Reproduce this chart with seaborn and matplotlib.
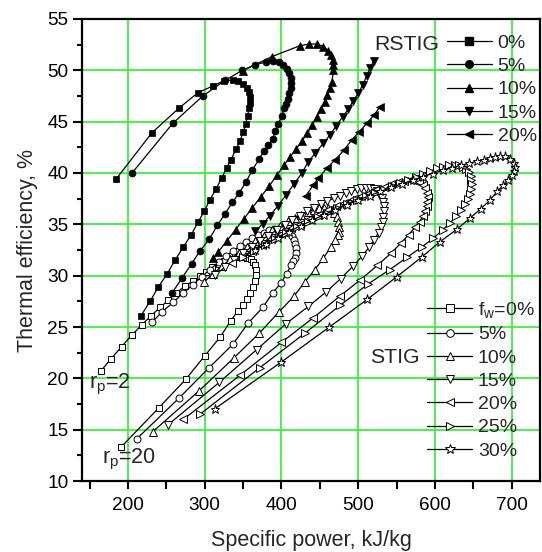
import matplotlib
matplotlib.use("Agg")
import matplotlib.pyplot as plt
import seaborn as sns
from matplotlib.lines import Line2D
from matplotlib.ticker import MultipleLocator

sns.set_style("ticks")
plt.rcParams["font.family"] = ["Liberation Sans", "DejaVu Sans"]
plt.rcParams["mathtext.fontset"] = "custom"
plt.rcParams["mathtext.rm"] = "Liberation Sans"
plt.rcParams["mathtext.it"] = "Liberation Sans"
plt.rcParams["mathtext.default"] = "regular"

# ---------------- RSTIG (filled markers) ----------------
r0_x = [184.4, 230.9, 266.1, 290.8, 311.1, 325.5, 336.4, 343.7, 350.2, 354.7, 357.7, 359.0, 359.0, 357.7,
        356.0, 353.4, 350.2, 345.9, 340.7, 334.2, 328.6, 322.1, 314.3, 306.9, 299.4, 291.2, 282.5, 272.1,
        261.2, 251.2, 239.5, 228.7, 216.9]
r0_y = [39.4, 43.9, 46.3, 47.8, 48.5, 49.0, 49.05, 49.0, 48.7, 48.3, 47.9, 47.4, 46.8, 46.3,
        45.6, 44.8, 44.0, 43.1, 42.3, 41.3, 40.5, 39.5, 38.4, 37.4, 36.3, 35.2, 34.0, 32.8,
        31.5, 30.2, 28.9, 27.5, 26.1]

r5_x = [204.8, 258.2, 297.3, 326.4, 349.2, 365.8, 379.4, 389.3, 397.2, 402.4, 406.8, 410.2, 412.0, 412.4,
        412.0, 409.8, 408.1, 405.9, 403.7, 400.3, 396.1, 392.2, 388.6, 383.1, 377.6, 370.7, 362.0, 353.8,
        345.0, 335.9, 326.4, 316.4, 305.6, 294.2, 283.0, 270.8, 257.7]
r5_y = [39.96, 44.83, 47.49, 49.02, 50.01, 50.54, 50.81, 50.94, 50.78, 50.52, 50.10, 49.71, 49.22, 48.73,
        48.30, 47.76, 47.17, 46.72, 46.30, 45.55, 44.81, 44.08, 43.30, 42.72, 42.16, 41.33, 40.28, 39.14,
        38.07, 37.13, 36.02, 34.89, 33.53, 32.45, 31.18, 29.82, 28.35]

r10_x = [349.9, 387.3, 424.1, 436.2, 446.7, 454.5, 461.0, 464.5, 466.7, 467.8, 467.8, 465.8, 463.2, 460.0,
         456.1, 451.5, 446.3, 440.4, 433.9, 426.7, 418.9, 411.1, 403.3, 394.2, 384.4, 373.3, 362.2, 351.2,
         340.1, 329.0, 317.9, 311.4]
r10_y = [49.98, 51.33, 52.40, 52.56, 52.56, 52.32, 51.93, 51.49, 51.00, 50.52, 50.03, 48.86, 48.27, 47.59,
         46.91, 46.23, 45.45, 44.67, 43.89, 43.11, 42.33, 41.55, 40.77, 39.80, 38.77, 37.70, 36.63, 35.56,
         34.48, 33.41, 32.34, 31.70]

r15_x = [520.6, 515.3, 511.0, 505.8, 500.1, 493.6, 487.1, 479.8, 471.0, 463.2, 454.5, 443.7, 434.9, 426.3,
         416.3, 405.9, 395.5, 385.0, 375.3, 365.5]
r15_y = [50.94, 50.20, 49.44, 48.57, 47.76, 47.04, 46.20, 45.48, 44.57, 43.69, 42.88, 41.91, 41.09, 39.96,
         38.92, 37.85, 36.82, 35.85, 35.02, 34.34]

r20_x = [528.4, 520.6, 511.1, 501.4, 491.5, 481.5, 469.7, 458.9, 448.0, 441.5, 431.9]
r20_y = [46.45, 45.64, 44.83, 44.02, 43.21, 42.23, 41.26, 40.45, 39.47, 38.82, 37.78]

# ---------------- STIG (open markers) ----------------
s0_x = [164.4, 177.8, 191.8, 204.8, 217.8, 230.0, 241.7, 252.5, 262.5, 274.3, 285.0, 293.8, 302.0, 310.0,
        318.0, 325.5, 332.5, 339.0, 345.0, 350.5, 355.5, 359.8, 363.3, 365.8, 367.0, 366.8, 365.3, 362.8,
        359.5, 355.3, 350.0, 343.7, 333.8, 319.9, 300.0, 275.2, 240.4, 190.9]
s0_y = [20.7, 21.9, 23.1, 24.2, 25.2, 26.1, 26.9, 27.6, 28.3, 29.0, 29.5, 29.95, 30.4, 30.8,
        31.15, 31.45, 31.65, 31.8, 31.85, 31.85, 31.75, 31.6, 31.35, 31.0, 30.55, 30.05, 29.5, 28.9,
        28.3, 27.7, 27.1, 26.6, 25.6, 24.0, 22.2, 19.9, 17.15, 13.3]

s5_x = [231.7, 244.7, 259.0, 271.7, 284.3, 296.0, 307.0, 318.0, 328.0, 337.0, 346.0, 354.0, 362.0, 370.0,
        377.0, 384.0, 390.0, 396.0, 401.0, 406.0, 410.0, 413.5, 416.0, 417.8, 418.6, 418.3, 417.2, 415.5,
        412.4, 406.8, 399.4, 388.5, 375.5, 356.8, 336.4, 305.9, 266.8, 211.3]
s5_y = [25.5, 26.5, 27.4, 28.3, 29.1, 29.9, 30.6, 31.3, 31.9, 32.4, 32.9, 33.3, 33.65, 33.95,
        34.2, 34.4, 34.5, 34.55, 34.5, 34.35, 34.15, 33.85, 33.5, 33.1, 32.65, 32.2, 31.75, 31.4,
        31.0, 30.2, 29.3, 28.3, 26.9, 25.4, 23.3, 21.05, 18.1, 14.1]

s10_x = [299.4, 311.0, 322.0, 333.0, 344.0, 355.0, 366.0, 377.0, 388.0, 398.0, 408.0, 417.0, 426.0, 434.0,
         442.0, 449.0, 455.0, 460.5, 465.0, 468.8, 471.8, 474.0, 475.2, 475.3, 474.0, 469.7, 464.1, 454.5,
         443.7, 430.6, 416.3, 397.2, 371.1, 338.1, 292.9, 232.2]
s10_y = [29.4, 30.2, 30.9, 31.6, 32.2, 32.8, 33.35, 33.9, 34.4, 34.85, 35.3, 35.65, 35.95, 36.2,
         36.4, 36.55, 36.6, 36.55, 36.4, 36.1, 35.7, 35.2, 34.7, 34.3, 33.95, 33.5, 32.75, 31.7,
         30.6, 29.4, 28.0, 26.5, 24.4, 22.0, 18.8, 14.8]

s15_x = [313.8, 326.0, 338.0, 350.0, 361.0, 372.0, 383.0, 394.0, 404.0, 414.0, 424.0, 433.0, 442.0, 451.0,
         460.0, 468.0, 476.0, 484.0, 491.0, 498.0, 504.0, 510.0, 515.0, 520.0, 524.0, 527.5, 530.5, 532.5,
         533.3, 533.3, 532.8, 531.8, 530.0, 526.5, 521.0, 514.0, 505.0, 493.0, 477.0, 458.0, 435.0, 405.5,
         367.7, 318.8, 252.5]
s15_y = [30.1, 30.8, 31.5, 32.2, 32.8, 33.4, 33.9, 34.45, 34.95, 35.4, 35.85, 36.25, 36.6, 36.95,
         37.25, 37.55, 37.8, 38.05, 38.25, 38.4, 38.5, 38.55, 38.5, 38.4, 38.2, 37.95, 37.6, 37.2,
         36.75, 36.25, 35.75, 35.25, 34.75, 34.2, 33.5, 32.75, 31.9, 30.9, 29.7, 28.4, 27.0, 25.3,
         22.8, 19.6, 15.5]

s20_x = [335.0, 348.0, 361.0, 374.0, 387.0, 400.0, 412.0, 424.0, 436.0, 448.0, 460.0, 471.0, 482.0, 493.0,
         504.0, 514.0, 524.0, 534.0, 543.0, 552.0, 560.0, 567.5, 574.0, 579.5, 584.0, 587.5, 589.6, 590.4,
         590.2, 589.2, 587.5, 584.5, 580.0, 574.0, 566.0, 556.0, 543.0, 525.0, 503.0, 476.0, 441.5, 400.0,
         346.0, 272.0]
s20_y = [31.2, 31.8, 32.4, 33.0, 33.55, 34.1, 34.6, 35.05, 35.5, 35.95, 36.35, 36.75, 37.1, 37.45,
         37.8, 38.1, 38.4, 38.65, 38.9, 39.1, 39.25, 39.3, 39.25, 39.1, 38.85, 38.5, 38.1, 37.65,
         37.2, 36.75, 36.3, 35.8, 35.25, 34.7, 34.0, 33.2, 32.2, 31.0, 29.6, 28.0, 25.9, 23.5,
         20.3, 16.0]

s25_x = [350.0, 364.0, 378.0, 392.0, 406.0, 420.0, 434.0, 447.0, 460.0, 473.0, 486.0, 498.0, 510.0, 522.0,
         533.0, 544.0, 555.0, 565.0, 575.0, 585.0, 594.0, 603.0, 611.0, 619.0, 626.0, 632.0, 637.0, 641.0,
         644.5, 646.5, 647.6, 647.8, 647.3, 645.6, 643.0, 639.3, 634.5, 628.0, 620.0, 610.0, 598.0, 583.0,
         564.0, 541.4, 513.1, 476.3, 430.6, 372.0, 293.8]
s25_y = [31.8, 32.4, 33.0, 33.6, 34.2, 34.75, 35.25, 35.7, 36.15, 36.6, 37.0, 37.4, 37.75, 38.1,
         38.4, 38.75, 39.05, 39.35, 39.65, 39.95, 40.2, 40.45, 40.6, 40.75, 40.8, 40.75, 40.6, 40.35,
         40.05, 39.7, 39.3, 38.9, 38.45, 38.0, 37.5, 36.95, 36.4, 35.8, 35.15, 34.45, 33.65, 32.8,
         31.8, 30.6, 29.2, 27.1, 24.4, 21.05, 16.5]

s30_x = [365.0, 380.0, 395.0, 410.0, 425.0, 440.0, 455.0, 470.0, 485.0, 500.0, 515.0, 529.0, 543.0, 557.0,
         571.0, 584.0, 597.0, 610.0, 622.0, 634.0, 645.0, 655.0, 664.0, 672.0, 679.0, 685.0, 691.3, 697.8,
         703.0, 704.3, 703.0, 700.0, 694.8, 689.0, 681.2, 671.7, 659.6, 645.7, 628.3, 606.6, 582.7, 550.5,
         512.0, 462.5, 400.0, 313.4]
s30_y = [32.5, 33.1, 33.7, 34.3, 34.85, 35.4, 35.9, 36.4, 36.9, 37.35, 37.8, 38.2, 38.6, 38.95,
         39.3, 39.65, 39.95, 40.25, 40.5, 40.75, 40.95, 41.15, 41.3, 41.45, 41.55, 41.65, 41.65, 41.4,
         41.0, 40.6, 40.2, 39.8, 39.3, 38.8, 38.2, 37.35, 36.5, 35.6, 34.5, 33.3, 31.8, 29.9,
         27.7, 25.0, 21.6, 17.05]

rstig_labels = ["0%", "5%", "10%", "15%", "20%"]
stig_labels = ["f$_w$=0%", "5%", "10%", "15%", "20%", "25%", "30%"]

rstig = [(r0_x, r0_y, "s"), (r5_x, r5_y, "o"), (r10_x, r10_y, "^"), (r15_x, r15_y, "v"), (r20_x, r20_y, "<")]
stig = [(s0_x, s0_y, "s"), (s5_x, s5_y, "o"), (s10_x, s10_y, "^"), (s15_x, s15_y, "v"),
        (s20_x, s20_y, "<"), (s25_x, s25_y, ">"), (s30_x, s30_y, "*")]

fig = plt.figure(figsize=(5.42, 5.52), dpi=100)
ax = fig.add_axes([0.1513, 0.1286, 0.845, 0.837])

msize = {"s": 4.8, "o": 5.0, "^": 5.5, "v": 5.5, "<": 5.5, ">": 5.5, "*": 6.5}

for xs, ys, m in stig:
    sns.lineplot(x=xs, y=ys, sort=False, estimator=None, ax=ax, color="k", lw=0.9,
                 marker=m, markersize=msize[m], markerfacecolor="white", markeredgecolor="k",
                 markeredgewidth=0.7, legend=False, zorder=3)
for xs, ys, m in rstig:
    sns.lineplot(x=xs, y=ys, sort=False, estimator=None, ax=ax, color="k", lw=0.9,
                 marker=m, markersize=msize[m], markerfacecolor="k", markeredgecolor="k",
                 markeredgewidth=0.5, legend=False, zorder=4)

ax.set_xlim(140, 737)
ax.set_ylim(10, 55)
ax.xaxis.set_major_locator(MultipleLocator(100))
ax.xaxis.set_minor_locator(MultipleLocator(50))
ax.yaxis.set_major_locator(MultipleLocator(5))
ax.yaxis.set_minor_locator(MultipleLocator(2.5))
ax.set_xticks([200, 300, 400, 500, 600, 700])
ax.grid(True, which="major", color="#3df03d", lw=1.3, zorder=0)
ax.set_axisbelow(True)
for s in ax.spines.values():
    s.set_linewidth(1.6)
    s.set_color("k")
ax.tick_params(which="both", direction="out", width=1.5, labelsize=13.7, colors="k")
ax.tick_params(which="major", axis="y", length=6.7, pad=3)
ax.tick_params(which="minor", axis="y", length=3.8)
ax.tick_params(which="both", axis="x", length=5.5, pad=6)
ax.set_xlabel("Specific power, kJ/kg", fontsize=15.5, labelpad=11.5)
ax.set_ylabel("Thermal efficiency, %", fontsize=15.5, labelpad=6.8)

# legends
h_r = [Line2D([], [], color="k", lw=0.9, marker=m, markersize=msize[m] + 0.5, markerfacecolor="k",
              markeredgecolor="k") for _, _, m in rstig]
h_s = [Line2D([], [], color="k", lw=0.9, marker=m, markersize=msize[m] + 0.5, markerfacecolor="white",
              markeredgecolor="k", markeredgewidth=0.7) for _, _, m in stig]
leg1 = ax.legend(h_r, rstig_labels, loc="center left", bbox_to_anchor=(0.797, 0.847), frameon=False,
                 fontsize=14, handlelength=2.3, handletextpad=0.3, labelspacing=0.29, borderpad=0,
                 borderaxespad=0)
ax.add_artist(leg1)
ax.legend(h_s, stig_labels, loc="center left", bbox_to_anchor=(0.754, 0.219), frameon=False,
          fontsize=14, handlelength=2.3, handletextpad=0.3, labelspacing=0.29, borderpad=0,
          borderaxespad=0)

ax.text(520.6, 52.5, "RSTIG", fontsize=15.3, ha="left", va="center")
ax.text(515.3, 22.05, "STIG", fontsize=15.3, ha="left", va="center")
ax.text(149.2, 19.0, "r$_p$=2", fontsize=15.5, ha="left", va="baseline")
ax.text(165.7, 11.7, "r$_p$=20", fontsize=15.5, ha="left", va="baseline")

fig.savefig("out.png", dpi=100)
